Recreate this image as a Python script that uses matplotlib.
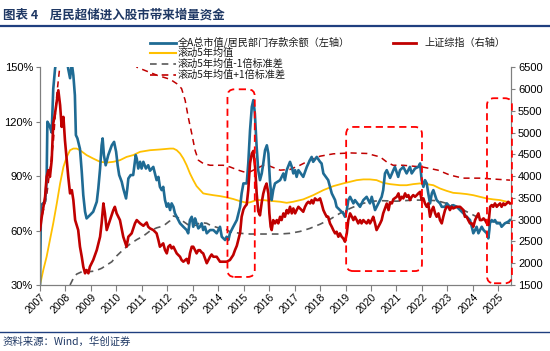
import matplotlib
matplotlib.use("Agg")
import matplotlib.pyplot as plt
from matplotlib.lines import Line2D
from matplotlib.patches import FancyBboxPatch
import matplotlib.ticker as mticker

CJK = ['Noto Sans CJK SC', 'DejaVu Sans']
plt.rcParams['font.family'] = ['Liberation Sans', 'DejaVu Sans']

# ---------------- data (decimal years) ----------------
ratio_t = [2007.00, 2007.04, 2007.20, 2007.26, 2007.29, 2007.37, 2007.46, 2007.52, 2007.59, 2007.75,
           2007.85, 2008.00, 2008.11, 2008.18, 2008.25, 2008.31, 2008.37, 2008.41, 2008.47, 2008.57,
           2008.64, 2008.70, 2008.77, 2008.83, 2008.96, 2009.09, 2009.23, 2009.29, 2009.36, 2009.42,
           2009.46, 2009.51, 2009.58, 2009.68, 2009.82, 2009.91, 2009.99, 2010.05, 2010.11, 2010.21,
           2010.27, 2010.38, 2010.43, 2010.47, 2010.56, 2010.66, 2010.76, 2010.80, 2010.86, 2010.93,
           2010.99, 2011.06, 2011.16, 2011.25, 2011.32, 2011.45, 2011.58, 2011.65, 2011.71, 2011.78,
           2011.84, 2011.91, 2011.98, 2012.04, 2012.11, 2012.17, 2012.24, 2012.30, 2012.37, 2012.50,
           2012.63, 2012.76, 2012.82, 2012.89, 2012.96, 2013.02, 2013.09, 2013.15, 2013.22, 2013.28,
           2013.35, 2013.41, 2013.48, 2013.55, 2013.68, 2013.81, 2013.94, 2014.07, 2014.14, 2014.27,
           2014.33, 2014.40, 2014.46, 2014.59, 2014.73, 2014.86, 2014.92, 2014.99, 2015.12, 2015.18,
           2015.25, 2015.32, 2015.38, 2015.44, 2015.51, 2015.57, 2015.64, 2015.71, 2015.77, 2015.84,
           2015.91, 2015.97, 2016.03, 2016.10, 2016.16, 2016.23, 2016.43, 2016.56, 2016.62, 2016.69,
           2016.82, 2016.89, 2016.95, 2017.02, 2017.08, 2017.15, 2017.34, 2017.48, 2017.60, 2017.67,
           2017.73, 2017.87, 2018.00, 2018.06, 2018.13, 2018.32, 2018.46, 2018.59, 2018.65, 2018.78,
           2018.91, 2018.98, 2019.05, 2019.11, 2019.18, 2019.31, 2019.37, 2019.57, 2019.70, 2019.83,
           2019.96, 2020.03, 2020.16, 2020.29, 2020.42, 2020.48, 2020.55, 2020.62, 2020.75, 2020.88,
           2020.94, 2021.07, 2021.14, 2021.27, 2021.40, 2021.53, 2021.60, 2021.73, 2021.86, 2021.93,
           2021.99, 2022.06, 2022.12, 2022.19, 2022.25, 2022.32, 2022.39, 2022.45, 2022.58, 2022.71,
           2022.78, 2022.91, 2022.98, 2023.10, 2023.23, 2023.37, 2023.50, 2023.63, 2023.76, 2023.89,
           2023.96, 2024.02, 2024.09, 2024.15, 2024.22, 2024.35, 2024.42, 2024.55, 2024.61, 2024.65,
           2024.67, 2024.74, 2024.80, 2024.87, 2024.94, 2025.07, 2025.13, 2025.26, 2025.39, 2025.46]
ratio_v = [30, 74, 76, 87, 120, 118, 114, 138, 149, 165,
           170, 160, 149, 144, 152, 145.6, 134.6, 112.6, 110.8, 105,
           92.4, 79.5, 70.4, 66.7, 68.5, 70.4, 75.9, 83.2, 94.2, 107,
           110.8, 101.6, 96, 101.6, 107, 108.9, 103.4, 96, 90.6, 86.9,
           83.2, 77.7, 83.2, 88.7, 90.6, 90.6, 101.6, 99.7, 94.2, 97.9,
           94.2, 97.9, 94.2, 96, 93, 95.1, 87.8, 89.6, 84.1, 82.3,
           84.1, 76.8, 73.1, 75, 71.3, 75, 73.1, 69.5, 67.6, 64,
           62.1, 60.3, 58.5, 65.8, 67.6, 62.1, 66.7, 64, 61.2, 62.1,
           64, 60.3, 62.1, 58.5, 60.3, 60.3, 58.5, 62.1, 56.6, 54.8,
           56.6, 54.8, 58.5, 62.1, 65.8, 73.1, 80.5, 86, 86, 97,
           115.3, 128.2, 131.9, 124.5, 106, 93.3, 87.8, 91.5, 97, 104.3,
           107, 102.5, 87.8, 76.8, 82.3, 86, 87.8, 91.5, 87.8, 93.3,
           97.9, 95.1, 91.5, 93.3, 89.6, 93.3, 89.6, 95.1, 98.8, 100.6,
           97.9, 100.6, 97.9, 97, 91.5, 87.8, 80.5, 76.8, 73.1, 71.3,
           69.5, 67.6, 71.3, 76.8, 78.6, 75, 76.8, 73.1, 76.8, 78.6,
           75, 78.6, 71.3, 75, 78.6, 82.3, 91.5, 93.3, 89, 93.3,
           95.1, 89.6, 93.3, 95.1, 91.5, 95.1, 91.5, 94.2, 95.1, 97,
           87.8, 84.1, 87.8, 86, 80.5, 75, 80.5, 82.3, 76.8, 75,
           73.1, 73.1, 75, 73.1, 74, 73.1, 71.3, 69.5, 67.6, 65.8,
           62.1, 58.5, 60.3, 62.1, 58.5, 62.1, 60.3, 58.5, 55.7, 60.3,
           64, 65.8, 64.9, 65.8, 64, 64, 62.1, 64, 64.9, 65.8]

mean_t = [2007.00, 2007.13, 2007.26, 2007.39, 2007.52, 2007.66, 2007.79, 2007.92, 2008.05, 2008.18,
          2008.31, 2008.44, 2008.57, 2008.83, 2009.09, 2009.36, 2009.62, 2009.88, 2010.14, 2010.40,
          2010.66, 2010.93, 2011.32, 2011.71, 2012.11, 2012.24, 2012.37, 2012.50, 2012.63, 2012.76,
          2012.89, 2013.02, 2013.15, 2013.28, 2013.41, 2013.55, 2013.81, 2014.07, 2014.33, 2014.59,
          2014.86, 2015.12, 2015.25, 2015.38, 2015.51, 2015.77, 2016.03, 2016.43, 2016.69, 2016.95,
          2017.34, 2017.73, 2018.13, 2018.52, 2018.91, 2019.18, 2019.44, 2019.70, 2019.96, 2020.22,
          2020.48, 2020.75, 2021.14, 2021.40, 2021.66, 2021.93, 2022.19, 2022.45, 2022.71, 2022.97,
          2023.23, 2023.50, 2023.76, 2024.02, 2024.28, 2024.55, 2024.80, 2025.07, 2025.33, 2025.46]
mean_v = [30, 38.3, 45.6, 54.8, 64, 75, 86, 95.1, 100.6, 104.3,
          105.2, 105.2, 104.3, 101.6, 99.7, 97.9, 97.5, 97.9, 98.8, 100.6,
          101.6, 103.4, 104.3, 104.7, 105.2, 105.2, 104.3, 102.5, 99.7, 96,
          91.5, 87.8, 84.5, 82.5, 80.5, 80.1, 79.5, 79, 78.3, 77.4,
          76.2, 75.3, 75.6, 76.2, 76.8, 76.8, 76.4, 75.9, 75.3, 75.9,
          77.2, 79.5, 82.3, 84.5, 86, 86.9, 87.8, 88.2, 88.2, 87.8,
          86.3, 85.6, 85, 85, 85.6, 86, 85.6, 85, 83.2, 81.9,
          80.8, 80.5, 80.1, 79.5, 78.6, 77.7, 77.2, 76.8, 75.9, 75.3]

lower_t = [2008.18, 2008.31, 2008.44, 2008.64, 2008.90, 2009.16, 2009.42, 2009.62, 2009.82, 2010.01,
           2010.27, 2010.53, 2010.80, 2011.06, 2011.32, 2011.58, 2011.84, 2012.11, 2012.24, 2012.37,
           2012.63, 2012.89, 2013.15, 2013.28, 2013.55, 2013.68, 2014.07, 2014.33, 2014.46, 2014.86,
           2015.25, 2016.03, 2016.43, 2016.82, 2017.21, 2017.60, 2018.00, 2018.39, 2018.78, 2019.18,
           2019.57, 2019.96, 2020.36, 2021.01, 2021.66, 2022.06, 2022.58, 2022.97, 2023.37, 2023.76,
           2024.28, 2024.68, 2025.46]
lower_v = [30, 33.7, 36, 37.3, 37.3, 37.7, 39.2, 41, 42.8, 46,
           49.5, 52.5, 55, 57, 59.8, 61.5, 62.5, 65.5, 68, 67.6,
           65, 62.5, 63, 64.5, 64, 63, 61.2, 60.5, 59.3, 58.5,
           58.1, 58.1, 58.1, 58.5, 59.5, 61.2, 63.5, 66.2, 69.5, 72.2,
           74.5, 76, 76.5, 76.2, 76.8, 76.8, 76.5, 75, 73.1, 70.4,
           66.7, 64.9, 64]

upper_t = [2007.00, 2007.26, 2007.52, 2007.66, 2007.79, 2008.00, 2009.00, 2010.00, 2010.50, 2010.81,
           2011.60, 2012.11, 2012.37, 2012.56, 2012.70, 2012.82, 2012.96, 2013.09, 2013.22, 2013.41,
           2013.68, 2014.20, 2014.46, 2014.73, 2014.99, 2015.25, 2015.51, 2015.77, 2016.03, 2016.43,
           2016.82, 2017.21, 2017.60, 2018.00, 2018.52, 2019.18, 2019.84, 2020.36, 2020.63, 2020.87,
           2021.26, 2022.04, 2022.63, 2023.10, 2023.61, 2024.28, 2025.46]
upper_v = [63, 79, 108, 135, 152, 175, 185, 170, 158, 150,
           145.6, 143.4, 141, 138.3, 131.9, 122.7, 113.5, 104.3, 98.8, 97,
           96, 96, 95.1, 93.6, 92.4, 92.4, 94.2, 96, 95.5, 93.3,
           93.7, 96, 98.8, 101, 102.3, 102.8, 102.5, 100.6, 97.7, 96,
           96, 95, 93.3, 90.6, 88.9, 88.9, 87.8]

sse_t = [2007.00, 2007.07, 2007.20, 2007.26, 2007.33, 2007.39, 2007.46, 2007.52, 2007.59, 2007.72,
         2007.79, 2007.85, 2007.92, 2007.98, 2008.05, 2008.11, 2008.18, 2008.25, 2008.31, 2008.38,
         2008.50, 2008.57, 2008.64, 2008.70, 2008.77, 2008.83, 2008.90, 2008.96, 2009.09, 2009.23,
         2009.36, 2009.42, 2009.49, 2009.55, 2009.62, 2009.75, 2009.88, 2009.94, 2010.01, 2010.14,
         2010.27, 2010.40, 2010.47, 2010.60, 2010.73, 2010.80, 2010.93, 2011.06, 2011.19, 2011.25,
         2011.32, 2011.45, 2011.58, 2011.65, 2011.71, 2011.84, 2011.91, 2011.98, 2012.04, 2012.11,
         2012.17, 2012.24, 2012.37, 2012.50, 2012.56, 2012.63, 2012.76, 2012.83, 2012.89, 2012.96,
         2013.02, 2013.09, 2013.15, 2013.22, 2013.28, 2013.35, 2013.41, 2013.55, 2013.68, 2013.74,
         2013.81, 2013.94, 2014.07, 2014.20, 2014.33, 2014.46, 2014.59, 2014.66, 2014.73, 2014.86,
         2014.92, 2014.99, 2015.05, 2015.12, 2015.18, 2015.25, 2015.32, 2015.38, 2015.45, 2015.51,
         2015.57, 2015.64, 2015.71, 2015.77, 2015.84, 2015.90, 2015.97, 2016.01, 2016.06, 2016.10,
         2016.16, 2016.23, 2016.30, 2016.36, 2016.43, 2016.49, 2016.56, 2016.62, 2016.69, 2016.75,
         2016.82, 2016.89, 2016.95, 2017.02, 2017.08, 2017.15, 2017.21, 2017.34, 2017.41, 2017.48,
         2017.54, 2017.61, 2017.67, 2017.73, 2017.80, 2017.87, 2017.93, 2018.00, 2018.06, 2018.13,
         2018.19, 2018.26, 2018.32, 2018.39, 2018.46, 2018.52, 2018.59, 2018.65, 2018.72, 2018.78,
         2018.85, 2018.91, 2018.98, 2019.05, 2019.11, 2019.18, 2019.25, 2019.31, 2019.37, 2019.44,
         2019.50, 2019.57, 2019.63, 2019.70, 2019.76, 2019.83, 2019.90, 2019.96, 2020.03, 2020.09,
         2020.16, 2020.22, 2020.29, 2020.36, 2020.42, 2020.48, 2020.55, 2020.62, 2020.69, 2020.75,
         2020.82, 2020.88, 2021.01, 2021.08, 2021.14, 2021.21, 2021.27, 2021.34, 2021.40, 2021.47,
         2021.53, 2021.60, 2021.66, 2021.73, 2021.80, 2021.86, 2021.93, 2021.99, 2022.06, 2022.12,
         2022.19, 2022.25, 2022.32, 2022.39, 2022.45, 2022.52, 2022.58, 2022.65, 2022.71, 2022.78,
         2022.84, 2022.91, 2022.97, 2023.04, 2023.10, 2023.17, 2023.23, 2023.37, 2023.50, 2023.63,
         2023.69, 2023.76, 2023.82, 2023.89, 2023.96, 2024.02, 2024.09, 2024.15, 2024.22, 2024.28,
         2024.35, 2024.42, 2024.48, 2024.55, 2024.61, 2024.68, 2024.74, 2024.80, 2024.87, 2024.94,
         2025.00, 2025.07, 2025.13, 2025.20, 2025.26, 2025.33, 2025.39, 2025.46]
sse_v = [2762, 3067, 3526, 3984, 4138, 3984, 4368, 5209, 5439, 5973,
         5629, 5132, 5361, 4826, 4368, 3984, 3604, 3679, 3450, 2991,
         2762, 2379, 2149, 1920, 1768, 1844, 1768, 1920, 2074, 2303,
         2608, 2915, 3374, 3145, 2762, 2991, 3221, 3296, 3145, 2991,
         2608, 2379, 2608, 2686, 2915, 2991, 2915, 2860, 2935, 2838,
         2800, 2762, 2686, 2532, 2379, 2456, 2303, 2226, 2379, 2418,
         2341, 2379, 2226, 2149, 2074, 2035, 2100, 1998, 2226, 2379,
         2379, 2300, 2226, 2300, 2300, 2250, 2226, 2000, 2149, 2200,
         2149, 2149, 2035, 2035, 2035, 2074, 2188, 2303, 2400, 2700,
         3067, 3234, 3300, 3350, 3679, 4300, 4520, 4580, 4200, 3604,
         3200, 3100, 3400, 3600, 3750, 3830, 3600, 3145, 2838, 2762,
         2991, 2915, 2991, 2915, 3067, 2991, 3145, 3067, 3221, 3145,
         3296, 3145, 3259, 3145, 3221, 3296, 3259, 3182, 3296, 3374,
         3411, 3374, 3450, 3374, 3489, 3450, 3450, 3489, 3374, 3221,
         3145, 3067, 3067, 2915, 2838, 2762, 2686, 2723, 2608, 2686,
         2608, 2571, 2494, 2686, 2991, 3145, 3067, 2991, 3067, 2991,
         2915, 2991, 2915, 2991, 2953, 2915, 2991, 2915, 2991, 3067,
         2915, 2762, 2838, 2915, 2991, 3145, 3260, 3370, 3221, 3400,
         3374, 3470, 3526, 3604, 3450, 3526, 3489, 3604, 3526, 3565,
         3450, 3526, 3565, 3526, 3565, 3604, 3640, 3450, 3489, 3374,
         3296, 3374, 3067, 3221, 3296, 3145, 3067, 3145, 2991, 2915,
         3067, 3221, 3296, 3296, 3221, 3296, 3259, 3296, 3296, 3221,
         3067, 3067, 2991, 2915, 2915, 2838, 2991, 3067, 3145, 2991,
         2991, 3030, 2991, 2915, 2876, 3296, 3335, 3296, 3374, 3296,
         3335, 3374, 3296, 3374, 3335, 3374, 3411, 3374]

years = list(range(2007, 2026))
left_ticks = [30, 60, 90, 120, 150]
right_ticks = list(range(1500, 7000, 500))

title_text = "图表 4    居民超储进入股市带来增量资金"
source_text = "资料来源：Wind，华创证券"
legend_labels = ["全A总市值/居民部门存款余额（左轴）", "滚动5年均值", "滚动5年均值-1倍标准差",
                 "滚动5年均值+1倍标准差", "上证综指（右轴）"]

# ---------------- figure ----------------
W, H = 550, 351
fig = plt.figure(figsize=(W / 100, H / 100), dpi=100)
ax = fig.add_axes([40 / W, 1 - 285 / H, 471 / W, 217.7 / H])

C_BLUE = '#1F6B94'
C_RED = '#C00000'
C_ORANGE = '#FFC000'
C_GRAY = '#595959'

ax.plot(ratio_t, ratio_v, color=C_BLUE, lw=1.9, zorder=3)
ax.plot(mean_t, mean_v, color=C_ORANGE, lw=1.3, zorder=2)
ax.plot(lower_t, lower_v, color=C_GRAY, lw=1.2, dashes=(4, 3), zorder=2)
ax.plot(upper_t, upper_v, color=C_RED, lw=1.1, dashes=(4, 3), zorder=2)

ax.set_xlim(2007.0, 2025.5)
ax.set_ylim(30, 150)
ax.set_yticks(left_ticks)
ax.yaxis.set_major_formatter(mticker.FuncFormatter(lambda v, p: f"{int(v)}%"))
ax.set_xticks(years)
ax.set_xticklabels([str(y) for y in years], rotation=45, ha='right', rotation_mode='anchor',
                   fontsize=7.5)
ax.tick_params(axis='x', length=4, width=0.8, color='#7F7F7F', pad=1)
ax.tick_params(axis='y', length=3, width=0.8, color='#7F7F7F', labelsize=8, pad=2)
for s in ['top']:
    ax.spines[s].set_visible(False)
for s in ['left', 'bottom', 'right']:
    ax.spines[s].set_color('#7F7F7F')
    ax.spines[s].set_linewidth(0.8)

ax2 = ax.twinx()
ax2.plot(sse_t, sse_v, color=C_RED, lw=1.9, zorder=3)
ax2.set_ylim(1500, 6500)
ax2.set_yticks(right_ticks)
ax2.tick_params(axis='y', length=3, width=0.8, color='#7F7F7F', labelsize=8, pad=2)
ax2.spines['top'].set_visible(False)
for s in ['left', 'bottom', 'right']:
    ax2.spines[s].set_color('#7F7F7F')
    ax2.spines[s].set_linewidth(0.8)
ax2.set_xlim(2007.0, 2025.5)

# highlight boxes (axes fractions)
aspect = 471 / 217.7
for (x0, x1, y0, y1) in [(0.398, 0.456, 0.037, 0.899),
                         (0.650, 0.811, 0.064, 0.726),
                         (0.949, 1.002, 0.008, 0.858)]:
    box = FancyBboxPatch((x0, y0), x1 - x0, y1 - y0,
                         boxstyle="round,pad=0,rounding_size=0.015",
                         mutation_aspect=aspect, transform=ax2.transAxes,
                         fill=False, edgecolor='#FF0000', lw=1.3,
                         linestyle=(0, (4, 2.5)), clip_on=False, zorder=6)
    ax2.add_patch(box)

# ---------------- title, rules, source ----------------
fig.text(3 / W, 1 - 15 / H, title_text, fontsize=9, fontweight='bold', color='#1F3864',
         family=CJK, va='center', ha='left')
fig.add_artist(Line2D([0, 1], [1 - 26 / H, 1 - 26 / H], transform=fig.transFigure,
                      color='#1F3F7F', lw=1.6))
fig.add_artist(Line2D([0, 1], [1 - 331.5 / H, 1 - 331.5 / H], transform=fig.transFigure,
                      color='#1F3F7F', lw=1.0))
fig.text(3 / W, 1 - 342 / H, source_text, fontsize=7.5, color='#1F3864', family=CJK,
         va='center', ha='left', style='italic')

# ---------------- legend ----------------
rows_y = [42.5, 53.2, 63.9, 74.6]
styles = [dict(color=C_BLUE, lw=2.0), dict(color=C_ORANGE, lw=1.5),
          dict(color=C_GRAY, lw=1.2, dashes=(4, 3)), dict(color=C_RED, lw=1.2, dashes=(4, 3))]
for yy, st, lab in zip(rows_y, styles, legend_labels[:4]):
    fy = 1 - yy / H
    fig.add_artist(Line2D([150 / W, 176 / W], [fy, fy], transform=fig.transFigure, **st))
    fig.text(178 / W, fy, lab, fontsize=7.3, family=CJK, color='#1A1A1A', va='center', ha='left')
fy = 1 - rows_y[0] / H
fig.add_artist(Line2D([393 / W, 416 / W], [fy, fy], transform=fig.transFigure, color=C_RED, lw=2.0))
fig.text(424 / W, fy, legend_labels[4], fontsize=7.3, family=CJK, color='#1A1A1A',
         va='center', ha='left')

fig.savefig("out.png", dpi=100)
